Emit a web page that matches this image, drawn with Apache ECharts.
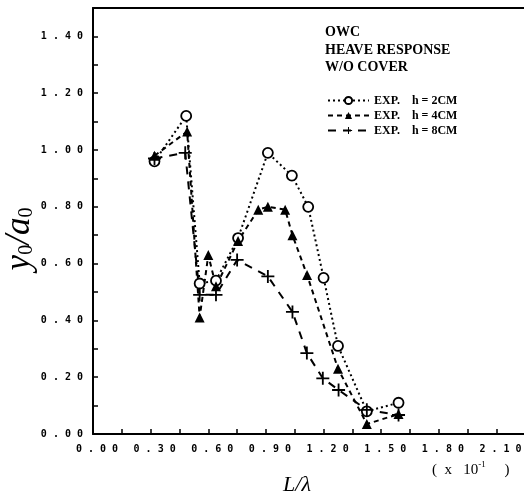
<!DOCTYPE html>
<html>
<head>
<meta charset="utf-8">
<script src="https://cdn.jsdelivr.net/npm/echarts@6/dist/echarts.min.js"></script>
<style>html,body{margin:0;padding:0;background:#fff;}#c{width:524px;height:497px;}</style>
</head>
<body>
<div id="c"></div>
<script>
// Series data (L/lambda x 10, y0/a0)
const xH2 = [0.32, 0.485, 0.555, 0.64, 0.755, 0.91, 1.035, 1.12, 1.2, 1.275, 1.425, 1.59];
const yH2 = [0.96, 1.12, 0.53, 0.54, 0.69, 0.99, 0.91, 0.80, 0.55, 0.31, 0.08, 0.11];
const xH4 = [0.32, 0.49, 0.555, 0.60, 0.64, 0.755, 0.86, 0.91, 1.0, 1.038, 1.114, 1.275, 1.425, 1.59];
const yH4 = [0.98, 1.065, 0.41, 0.63, 0.52, 0.68, 0.79, 0.80, 0.79, 0.70, 0.56, 0.23, 0.035, 0.07];
const xH8 = [0.32, 0.48, 0.555, 0.64, 0.75, 0.91, 1.038, 1.113, 1.196, 1.278, 1.425, 1.59];
const yH8 = [0.97, 0.99, 0.49, 0.49, 0.613, 0.555, 0.43, 0.285, 0.196, 0.155, 0.085, 0.067];
const seriesNames = ['EXP.    h = 2CM', 'EXP.    h = 4CM', 'EXP.    h = 8CM'];
const titleLines = ['OWC', 'HEAVE RESPONSE', 'W/O COVER'];

const pairs = (xs, ys) => xs.map((x, i) => [x, ys[i]]);
const spaced = v => v.toFixed(2).split('').join(' ');
const everyN = n => v => (Math.round(v * 100) % n === 0 && v < 2.2 ? spaced(v) : '');
const crossPath = 'path://M-1.4,-10 L1.4,-10 L1.4,-1.4 L10,-1.4 L10,1.4 L1.4,1.4 L1.4,10 L-1.4,10 L-1.4,1.4 L-10,1.4 L-10,-1.4 L-1.4,-1.4 Z';

const chart = echarts.init(document.getElementById('c'), null, {renderer: 'canvas'});
const tickFont = {fontFamily: 'DejaVu Sans Mono', fontWeight: 'bold', fontSize: 10, color: '#000'};

chart.setOption({
  animation: false,
  backgroundColor: '#fff',
  title: {
    text: titleLines.join('\n'),
    left: 320, top: 19,
    textStyle: {fontFamily: 'Liberation Serif', fontWeight: 'bold', fontSize: 14, lineHeight: 17.5, color: '#000'}
  },
  legend: {
    orient: 'vertical', left: 322, top: 89,
    itemWidth: 41, itemHeight: 9, itemGap: 2,
    textStyle: {fontFamily: 'Liberation Serif', fontWeight: 'bold', fontSize: 12, lineHeight: 13, color: '#000'},
    data: seriesNames
  },
  grid: {left: 93, top: 8, width: 441, bottom: 63, containLabel: false, outerBoundsMode: 'none'},
  xAxis: [{
    type: 'value', min: 0, max: 2.295, interval: 0.15,
    axisLine: {lineStyle: {color: '#000', width: 2}},
    axisTick: {inside: true, length: 5, lineStyle: {color: '#000', width: 1.5}},
    axisLabel: Object.assign({margin: 10, formatter: everyN(30), padding: [0, 0, 0, 8]}, tickFont),
    splitLine: {show: false}
  }, {
    type: 'value', position: 'top', min: 0, max: 2.295,
    axisLine: {show: true, lineStyle: {color: '#000', width: 2}},
    axisTick: {show: false}, axisLabel: {show: false}, splitLine: {show: false}
  }],
  yAxis: {
    type: 'value', min: 0, max: 1.5, interval: 0.1,
    axisLine: {lineStyle: {color: '#000', width: 2}},
    axisTick: {inside: true, length: 5, lineStyle: {color: '#000', width: 1.5}},
    axisLabel: Object.assign({margin: 10, formatter: everyN(20)}, tickFont),
    splitLine: {show: false}
  },
  graphic: [{
    type: 'text', left: 432, top: 460,
    style: {
      text: '(  x   10{s|-1}     )',
      rich: {s: {fontFamily: 'Liberation Serif', fontSize: 9, fill: '#000', padding: [0, 0, 11, 0]}},
      fontFamily: 'Liberation Serif', fontSize: 15, fill: '#000'
    }
  }, {
    type: 'text', x: 297, y: 485,
    style: {
      text: 'L/λ', align: 'center', verticalAlign: 'middle',
      fontFamily: 'Liberation Serif', fontStyle: 'italic', fontSize: 22, fill: '#000'
    }
  }, {
    type: 'text', x: 20, y: 239, rotation: Math.PI / 2,
    style: {
      text: '{i|y}{s|0}{i|/a}{s|0}', align: 'center', verticalAlign: 'middle',
      rich: {
        i: {fontFamily: 'Liberation Serif', fontStyle: 'italic', fontSize: 35, fill: '#000'},
        s: {fontFamily: 'Liberation Serif', fontSize: 20, fill: '#000', padding: [14, 0, 0, 0]}
      }
    }
  }],
  series: [{
    name: seriesNames[0], type: 'line', data: pairs(xH2, yH2),
    symbol: 'circle', symbolSize: 10, showAllSymbol: true,
    lineStyle: {color: '#000', width: 2, type: [2, 3]},
    itemStyle: {color: '#fff', borderColor: '#000', borderWidth: 1.8}
  }, {
    name: seriesNames[1], type: 'line', data: pairs(xH4, yH4),
    symbol: 'triangle', symbolSize: 10, showAllSymbol: true,
    lineStyle: {color: '#000', width: 2, type: [5, 4]},
    itemStyle: {color: '#000', borderColor: '#000', borderWidth: 0}
  }, {
    name: seriesNames[2], type: 'line', data: pairs(xH8, yH8),
    symbol: crossPath, symbolSize: 13, showAllSymbol: true,
    lineStyle: {color: '#000', width: 2, type: [8, 7]},
    itemStyle: {color: '#000', borderColor: '#000', borderWidth: 0}
  }]
});
</script>
</body>
</html>
